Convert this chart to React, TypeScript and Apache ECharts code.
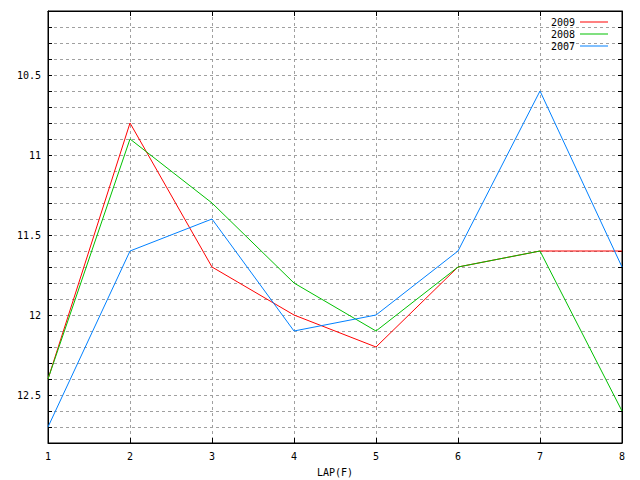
import React, { useEffect, useRef } from "react";
import * as echarts from "echarts";

const laps = ["1", "2", "3", "4", "5", "6", "7", "8"];
const s2009 = [12.4, 10.8, 11.7, 12.0, 12.2, 11.7, 11.6, 11.6];
const s2008 = [12.4, 10.9, 11.3, 11.8, 12.1, 11.7, 11.6, 12.6];
const s2007 = [12.7, 11.6, 11.4, 12.1, 12.0, 11.6, 10.6, 11.7];

const FONT = "DejaVu Sans Mono";

export default function App() {
  const ref = useRef<HTMLDivElement>(null);
  useEffect(() => {
    if (!ref.current) return;
    const chart = echarts.init(ref.current, null, { renderer: "svg" });
    const yBase = {
      type: "value",
      inverse: true,
      min: 10.1,
      max: 12.8,
      interval: 0.1,
      axisLine: { show: true, lineStyle: { color: "#000", width: 1 } },
      axisTick: { show: true, inside: true, length: 4, lineStyle: { color: "#000" } },
    };
    const xBase = {
      type: "category",
      data: laps,
      boundaryGap: false,
      axisLine: { show: true, lineStyle: { color: "#000", width: 1 } },
      axisTick: { show: true, inside: true, length: 5, alignWithLabel: true, lineStyle: { color: "#000" } },
    };
    chart.setOption({
      animation: false,
      backgroundColor: "#fff",
      grid: {
        left: 48,
        right: 18,
        top: 11,
        bottom: 37,
        show: true,
        borderColor: "#000",
        borderWidth: 1,
        outerBoundsMode: "none",
        containLabel: false,
      },
      legend: {
        orient: "vertical",
        right: 27,
        top: 11,
        align: "right",
        itemWidth: 28,
        itemHeight: 1,
        itemGap: 0,
        icon: "rect",
        textStyle: { fontFamily: FONT, fontSize: 10, color: "#000", lineHeight: 12 },
        data: ["2009", "2008", "2007"],
      },
      xAxis: [
        {
          ...xBase,
          position: "bottom",
          name: "LAP(F)",
          nameLocation: "middle",
          nameGap: 24,
          nameTextStyle: { fontFamily: FONT, fontSize: 10, color: "#000" },
          axisLabel: { fontFamily: FONT, fontSize: 10, color: "#000", margin: 8 },
          splitLine: { show: true, lineStyle: { color: "#a0a0a0", type: [3, 3], width: 1 } },
        },
        {
          ...xBase,
          position: "top",
          axisLabel: { show: false },
          splitLine: { show: false },
        },
      ],
      yAxis: [
        {
          ...yBase,
          position: "left",
          axisLabel: {
            fontFamily: FONT,
            fontSize: 10,
            color: "#000",
            margin: 7,
            formatter: (v: number) => {
              const r = Math.round(v * 10) / 10;
              return Math.abs(r * 2 - Math.round(r * 2)) < 1e-6 ? String(r) : "";
            },
          },
          splitLine: { show: true, lineStyle: { color: "#a0a0a0", type: [3, 3], width: 1 } },
        },
        {
          ...yBase,
          position: "right",
          axisLabel: { show: false },
          splitLine: { show: false },
        },
      ],
      series: [
        { name: "2009", type: "line", data: s2009, showSymbol: false, symbol: "none", color: "#ff0000", lineStyle: { width: 1, color: "#ff0000" } },
        { name: "2008", type: "line", data: s2008, showSymbol: false, symbol: "none", color: "#00c000", lineStyle: { width: 1, color: "#00c000" } },
        { name: "2007", type: "line", data: s2007, showSymbol: false, symbol: "none", color: "#0080ff", lineStyle: { width: 1, color: "#0080ff" } },
      ],
    });
    return () => chart.dispose();
  }, []);
  return <div ref={ref} style={{ position: "fixed", left: 0, top: 0, width: 640, height: 480 }} />;
}
